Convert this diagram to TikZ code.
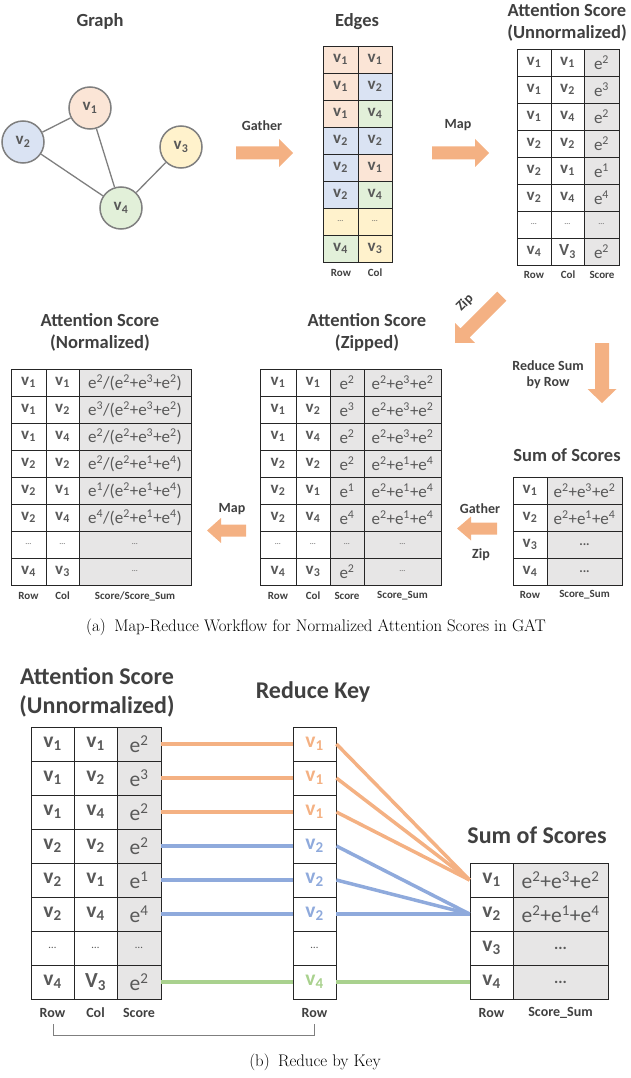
\documentclass[tikz,border=0pt]{standalone}
\usepackage{fontspec}
\newfontfamily\carl{Carlito}
\definecolor{arr}{HTML}{F4B183}
\definecolor{cpk}{HTML}{FBE5D6}
\definecolor{cbl}{HTML}{DAE3F3}
\definecolor{cyl}{HTML}{FFF2CC}
\definecolor{cgr}{HTML}{E2F0D9}
\definecolor{cgy}{HTML}{E7E6E6}
\definecolor{tg}{HTML}{595959}
\definecolor{tt}{HTML}{404040}
\definecolor{lbl}{HTML}{8FAADC}
\definecolor{lgr}{HTML}{A9D18E}
\definecolor{cir}{HTML}{7F7F7F}
\newcommand\vs[1]{v\textsubscript{#1}}
\newcommand\Vs[1]{V\textsubscript{#1}}
\newcommand\ee[1]{{\mdseries e\textsuperscript{#1}}}
\newcommand\Sa{{\mdseries e\textsuperscript{2}+e\textsuperscript{3}+e\textsuperscript{2}}}
\newcommand\Sb{{\mdseries e\textsuperscript{2}+e\textsuperscript{1}+e\textsuperscript{4}}}
\newcommand\Na[1]{{\mdseries e\textsuperscript{#1}/(e\textsuperscript{2}+e\textsuperscript{3}+e\textsuperscript{2})}}
\newcommand\Nb[1]{{\mdseries e\textsuperscript{#1}/(e\textsuperscript{2}+e\textsuperscript{1}+e\textsuperscript{4})}}
\newcommand\dsm{{\mdseries\fontsize{8}{8}\selectfont …}}
\newcommand\dsb{{\mdseries\fontsize{11}{11}\selectfont …}}
\newcommand\dlg{{\fontsize{13}{13}\selectfont ...}}
\newcommand\dlb{{\fontsize{16}{16}\selectfont ...}}
\newcommand\fat[6]{\begin{scope}[shift={(#1,#2)},rotate=#3]
\fill[arr] ({-#4/2},{-#6/2}) -- ({#4/2-14},{-#6/2}) -- ({#4/2-14},{-#5/2}) -- ({#4/2},0) -- ({#4/2-14},{#5/2}) -- ({#4/2-14},{#6/2}) -- ({-#4/2},{#6/2}) -- cycle;
\end{scope}}
\tikzset{
 ca/.style={draw=black!85, line width=0.8pt, inner sep=0pt, minimum height=27pt, text=tg, font=\carl\bfseries\fontsize{17}{17}\selectfont},
 cb/.style={draw=black!85, line width=0.8pt, inner sep=0pt, minimum height=34pt, text=tg, font=\carl\bfseries\fontsize{21.5}{21.5}\selectfont},
 ttl/.style={text=tt, align=center, font=\carl\bfseries\fontsize{18.5}{22}\selectfont},
 ttlb/.style={text=tt, align=center, font=\carl\bfseries\fontsize{24}{29}\selectfont},
 lab/.style={text=tt, align=center, font=\carl\bfseries\fontsize{14}{16}\selectfont},
 col/.style={text=tt, inner sep=0pt, font=\carl\bfseries\fontsize{11}{11}\selectfont},
 colb/.style={text=tt, inner sep=0pt, font=\carl\bfseries\fontsize{14}{14}\selectfont},
 gn/.style={circle, draw=cir, line width=1.5pt, minimum size=42pt, inner sep=0pt, text=tg, font=\carl\bfseries\fontsize{17}{17}\selectfont},
 ge/.style={draw=cir, line width=1.3pt},
 kl/.style={line width=3.5pt},
 captxt/.style={font=\fontsize{16.8}{19}\selectfont}
}
\begin{document}
\begin{tikzpicture}[x=1pt,y=-1pt]
\useasboundingbox (0,0) rectangle (631,1078);
% ---------- Graph
\node[ttl] (tgraph) at (100,21) {Graph};
\node[gn, fill=cpk] (g1) at (90,108) {\vs1};
\node[gn, fill=cbl] (g2) at (23,142) {\vs2};
\node[gn, fill=cyl] (g3) at (181,147) {\vs3};
\node[gn, fill=cgr] (g4) at (121,208) {\vs4};
\draw[ge] (g1) -- (g2);
\draw[ge] (g1) -- (g4);
\draw[ge] (g2) -- (g4);
\draw[ge] (g3) -- (g4);
% ---------- arrows top
\fat{264.5}{153}{0}{57}{28}{13}
\node[lab] (lgather) at (262,126) {Gather};
\fat{460.5}{153}{0}{57}{28}{13}
\node[lab] (lmap) at (458,125) {Map};
% ---------- Edges
\node[ttl] (tedges) at (357,22) {Edges};
\foreach \xa/\fa/\xb/\fb [count=\i] in {{\vs1}/cpk/{\vs1}/cpk, {\vs1}/cpk/{\vs2}/cbl, {\vs1}/cpk/{\vs4}/cgr, {\vs2}/cbl/{\vs2}/cbl, {\vs2}/cbl/{\vs1}/cpk, {\vs2}/cbl/{\vs4}/cgr, {\dsm}/cyl/{\dsm}/cyl, {\vs4}/cgr/{\vs3}/cyl}{
 \node[ca, fill=\fa, minimum width=35pt] (edr\i) at (340.5,32.5+27*\i) {\xa};
 \node[ca, fill=\fb, minimum width=34pt] (edc\i) at (375,32.5+27*\i) {\xb};
}
\node[col] (edlr) at (341,273) {Row};
\node[col] (edlc) at (375,273) {Col};
% ---------- Unnormalized
\node[ttl] (tun) at (567,22) {Attention Score\\(Unnormalized)};
\foreach \xa/\xb/\xc [count=\i] in {{\vs1}/{\vs1}/{\ee2}, {\vs1}/{\vs2}/{\ee3}, {\vs1}/{\vs4}/{\ee2}, {\vs2}/{\vs2}/{\ee2}, {\vs2}/{\vs1}/{\ee1}, {\vs2}/{\vs4}/{\ee4}, {\dsm}/{\dsm}/{\dsm}, {\vs4}/{\Vs3}/{\ee2}}{
 \node[ca, minimum width=34pt] (una\i) at (534,35.5+27*\i) {\xa};
 \node[ca, minimum width=33pt] (unb\i) at (567.5,35.5+27*\i) {\xb};
 \node[ca, fill=cgy, minimum width=35pt] (unc\i) at (601.5,35.5+27*\i) {\xc};
}
\node[col] (unlr) at (534,275) {Row};
\node[col] (unlc) at (568,275) {Col};
\node[col] (unls) at (602,275) {Score};
% ---------- Zip / Reduce arrows
\fat{478.5}{319.5}{-135}{66}{28}{13}
\node[lab, rotate=45, inner sep=0pt] (lzip) at (465,303) {Zip};
\fat{602}{373}{-90}{60}{29}{14}
\node[lab] (lred) at (548,375) {Reduce Sum\\by Row};
% ---------- Sum of scores (a)
\node[ttl] (tsum) at (567,455) {Sum of Scores};
\foreach \xa/\xb [count=\i] in {{\vs1}/{\Sa}, {\vs2}/{\Sb}, {\vs3}/{\dlg}, {\vs4}/{\dlg}}{
 \node[ca, minimum width=34pt] (saa\i) at (530,463.5+27*\i) {\xa};
 \node[ca, fill=cgy, minimum width=75pt] (sab\i) at (584.5,463.5+27*\i) {\xb};
}
\node[col] (salr) at (530,595) {Row};
\node[col] (sals) at (584.5,595) {Score\_Sum};
\fat{477}{528.5}{180}{40}{24}{12}
\node[lab] (lgather2) at (480,509) {Gather};
\node[lab] (lzip2) at (481,555) {Zip};
% ---------- Zipped
\node[ttl] (tzip) at (367,332) {Attention Score\\(Zipped)};
\foreach \xa/\xb/\xc/\xd [count=\i] in {{\vs1}/{\vs1}/{\ee2}/{\Sa}, {\vs1}/{\vs2}/{\ee3}/{\Sa}, {\vs1}/{\vs4}/{\ee2}/{\Sa}, {\vs2}/{\vs2}/{\ee2}/{\Sb}, {\vs2}/{\vs1}/{\ee1}/{\Sb}, {\vs2}/{\vs4}/{\ee4}/{\Sb}, {\dsm}/{\dsm}/{\dsm}/{\dsm}, {\vs4}/{\vs3}/{\ee2}/{\dsm}}{
 \node[ca, minimum width=36pt] (zpa\i) at (278,355.5+27*\i) {\xa};
 \node[ca, minimum width=34pt] (zpb\i) at (313,355.5+27*\i) {\xb};
 \node[ca, fill=cgy, minimum width=34pt] (zpc\i) at (347,355.5+27*\i) {\xc};
 \node[ca, fill=cgy, minimum width=77pt] (zpd\i) at (402.5,355.5+27*\i) {\xd};
}
\node[col] (zplr) at (278,596) {Row};
\node[col] (zplc) at (313,596) {Col};
\node[col] (zpls) at (347,596) {Score};
\node[col] (zpld) at (402.5,596) {Score\_Sum};
\fat{226.5}{530.5}{180}{39}{25}{12}
\node[lab] (lmap2) at (232,509) {Map};
% ---------- Normalized
\node[ttl] (tnorm) at (100,332) {Attention Score\\(Normalized)};
\foreach \xa/\xb/\xc [count=\i] in {{\vs1}/{\vs1}/{\Na2}, {\vs1}/{\vs2}/{\Na3}, {\vs1}/{\vs4}/{\Na2}, {\vs2}/{\vs2}/{\Nb2}, {\vs2}/{\vs1}/{\Nb1}, {\vs2}/{\vs4}/{\Nb4}, {\dsm}/{\dsm}/{\dsm}, {\vs4}/{\vs3}/{\dsm}}{
 \node[ca, minimum width=35pt] (nma\i) at (28.5,355.5+27*\i) {\xa};
 \node[ca, minimum width=33pt] (nmb\i) at (62.5,355.5+27*\i) {\xb};
 \node[ca, fill=cgy, minimum width=112pt] (nmc\i) at (135,355.5+27*\i) {\xc};
}
\node[col] (nmlr) at (28.5,596) {Row};
\node[col] (nmlc) at (62.5,596) {Col};
\node[col] (nmls) at (135,596) {Score/Score\_Sum};
\node[captxt] (capa) at (316,627) {(a)\enspace Map-Reduce Workflow for Normalized Attention Scores in GAT};
% ================= (b)
\node[ttlb] (tbun) at (97,692) {Attention Score\\(Unnormalized)};
\node[ttlb] (tbkey) at (313,692) {Reduce Key};
\node[ttlb] (tbsum) at (537,835) {Sum of Scores};
\foreach \xa/\xb/\xc [count=\i] in {{\vs1}/{\vs1}/{\ee2}, {\vs1}/{\vs2}/{\ee3}, {\vs1}/{\vs4}/{\ee2}, {\vs2}/{\vs2}/{\ee2}, {\vs2}/{\vs1}/{\ee1}, {\vs2}/{\vs4}/{\ee4}, {\dsb}/{\dsb}/{\dsb}, {\vs4}/{\Vs3}/{\ee2}}{
 \node[cb, minimum width=43pt] (bla\i) at (52.5,710+34*\i) {\xa};
 \node[cb, minimum width=43pt] (blb\i) at (95.5,710+34*\i) {\xb};
 \node[cb, fill=cgy, minimum width=44pt] (blc\i) at (139,710+34*\i) {\xc};
}
\foreach \xa/\tc [count=\i] in {{\vs1}/arr, {\vs1}/arr, {\vs1}/arr, {\vs2}/lbl, {\vs2}/lbl, {\vs2}/lbl, {\dsb}/tg, {\vs4}/lgr}{
 \node[cb, text=\tc, minimum width=43pt] (bk\i) at (314.5,710+34*\i) {\xa};
}
\foreach \xa/\xb [count=\i] in {{\vs1}/{\Sa}, {\vs2}/{\Sb}, {\vs3}/{\dlb}, {\vs4}/{\dlb}}{
 \node[cb, minimum width=43pt] (bsk\i) at (491.5,846+34*\i) {\xa};
 \node[cb, fill=cgy, minimum width=95pt] (bsv\i) at (560.5,846+34*\i) {\xb};
}
\foreach \i/\c in {1/arr,2/arr,3/arr,4/lbl,5/lbl,6/lbl,8/lgr}{
 \draw[kl, \c] (blc\i.east) -- (bk\i.west);
}
\foreach \i/\t/\c in {1/1/arr,2/1/arr,3/1/arr,4/2/lbl,5/2/lbl,6/2/lbl,8/4/lgr}{
 \draw[kl, \c] (bk\i.east) -- (bsk\t.west);
}
\node[colb] (blr) at (52.5,1013) {Row};
\node[colb] (blcl) at (95.5,1013) {Col};
\node[colb] (bls) at (139,1013) {Score};
\node[colb] (bkr) at (314.5,1013) {Row};
\node[colb] (bsr) at (491.5,1013) {Row};
\node[colb] (bss) at (560.5,1013) {Score\_Sum};
\coordinate (br1) at (53,1024);
\coordinate (br2) at (314,1024);
\draw[cir, line width=1pt] (br1) -- ++(0,11) -| (br2);
\node[captxt] (capb) at (315,1062) {(b)\enspace Reduce by Key};
\end{tikzpicture}
\end{document}
